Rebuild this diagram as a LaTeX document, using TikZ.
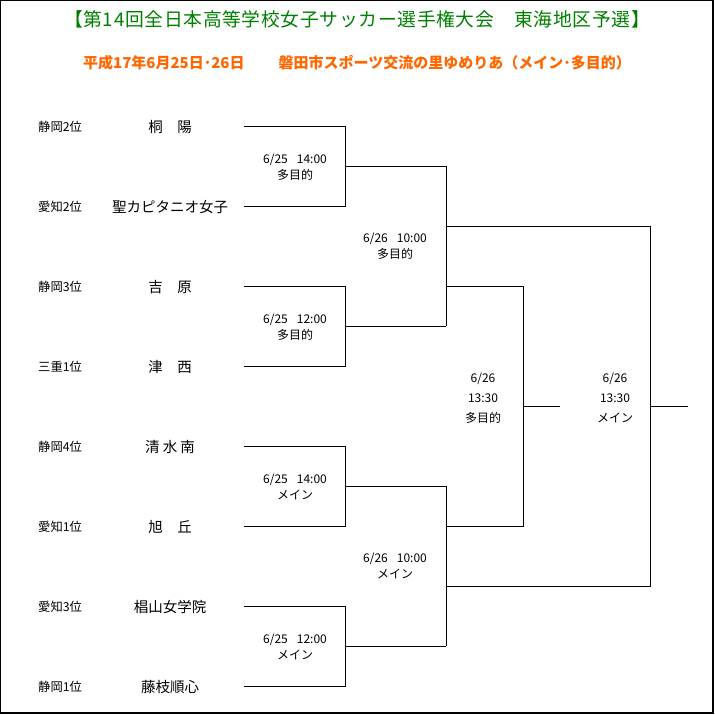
\documentclass[tikz,border=0pt]{standalone}
\usepackage{fontspec}
\setmainfont{Noto Sans CJK JP}
\definecolor{titlegreen}{RGB}{0,128,0}
\definecolor{suborange}{RGB}{255,102,0}
\begin{document}
\begin{tikzpicture}[x=1pt,y=-1pt,
  frame/.style={line width=1pt,black},
  bline/.style={line width=1pt,black},
  seed/.style={anchor=west,inner sep=0pt,font=\fontsize{12.3}{14}\selectfont},
  team/.style={anchor=center,inner sep=0pt,font=\fontsize{14.5}{17}\selectfont},
  info/.style={anchor=center,inner sep=0pt,align=center,font=\fontsize{12}{16}\selectfont},
  info2/.style={anchor=center,inner sep=0pt,align=center,font=\fontsize{12}{20}\selectfont}]
\useasboundingbox (0,0) rectangle (715,715);
\fill[white] (0,0) rectangle (715,715);
% frame
\draw[frame] (0.5,714) -- (0.5,0.5) -- (714,0.5);
\draw[line width=2pt] (713,0) -- (713,713) -- (0,713);
% title
\node[inner sep=0pt,text=titlegreen,font=\fontsize{18.8}{20}\selectfont\addfontfeatures{LetterSpace=3.5}] (title) at (357,19) {【第14回全日本高等学校女子サッカー選手権大会　東海地区予選】};
\node[inner sep=0pt,text=suborange,font=\fontsize{15}{16}\selectfont\bfseries] (sub) at (357,63) {平成17年6月25日･26日\hspace{34pt}磐田市スポーツ交流の里ゆめりあ（メイン･多目的）};
% seeds and teams
\foreach \y/\s/\t/\n in {126/静岡2位/桐　陽/1, 206/愛知2位/聖カピタニオ女子/2, 286/静岡3位/吉　原/3, 366/三重1位/津　西/4, 446/静岡4位/清 水 南/5, 526/愛知1位/旭　丘/6, 606/愛知3位/椙山女学院/7, 686/静岡1位/藤枝順心/8}{
  \node[seed] (s\n) at (38,\y+1) {\s};
  \node[team] (t\n) at (170,\y+1) {\t};
  \coordinate (e\n) at (244,\y);
}
% bracket coordinates
\coordinate (q1) at (345,166);
\coordinate (q2) at (345,326);
\coordinate (q3) at (345,486);
\coordinate (q4) at (345,646);
\coordinate (p1) at (446,166);
\coordinate (p2) at (446,326);
\coordinate (p3) at (446,486);
\coordinate (p4) at (446,646);
\coordinate (u1) at (446,226);
\coordinate (v1) at (446,286);
\coordinate (v2) at (446,526);
\coordinate (u2) at (446,586);
\coordinate (th) at (523,406);
\coordinate (thend) at (560,406);
\coordinate (fi) at (650,406);
\coordinate (fiend) at (688,406);
% first round
\draw[bline] (e1) -| (q1); \draw[bline] (e2) -| (q1);
\draw[bline] (e3) -| (q2); \draw[bline] (e4) -| (q2);
\draw[bline] (e5) -| (q3); \draw[bline] (e6) -| (q3);
\draw[bline] (e7) -| (q4); \draw[bline] (e8) -| (q4);
\draw[bline] (q1) -- (p1); \draw[bline] (q2) -- (p2);
\draw[bline] (q3) -- (p3); \draw[bline] (q4) -- (p4);
% semifinals
\draw[bline] (p1) -- (p2);
\draw[bline] (p3) -- (p4);
% third place
\draw[bline] (v1) -| (th); \draw[bline] (v2) -| (th);
\draw[bline] (th) -- (thend);
% final
\draw[bline] (u1) -| (fi); \draw[bline] (u2) -| (fi);
\draw[bline] (fi) -- (fiend);
% match info
\node[info] (m1) at (295,167) {6/25\hspace{9pt}14:00\\多目的};
\node[info] (m2) at (295,327) {6/25\hspace{9pt}12:00\\多目的};
\node[info] (m3) at (295,487) {6/25\hspace{9pt}14:00\\メイン};
\node[info] (m4) at (295,647) {6/25\hspace{9pt}12:00\\メイン};
\node[info] (m5) at (395,246) {6/26\hspace{9pt}10:00\\多目的};
\node[info] (m6) at (395,566) {6/26\hspace{9pt}10:00\\メイン};
\node[info2] (m7) at (483,398) {6/26\\13:30\\多目的};
\node[info2] (m8) at (615,398) {6/26\\13:30\\メイン};
\end{tikzpicture}
\end{document}
